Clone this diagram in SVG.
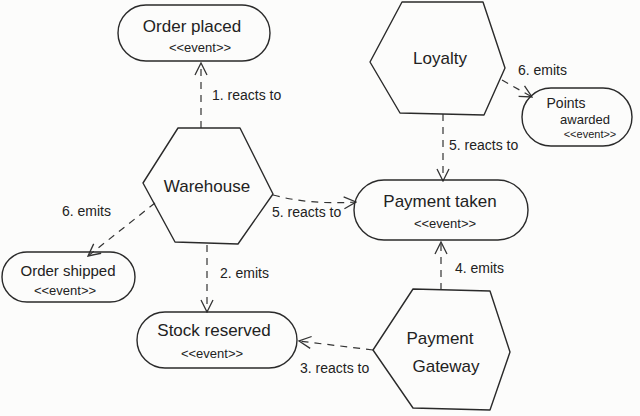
<svg xmlns="http://www.w3.org/2000/svg" width="640" height="416" viewBox="0 0 640 416">
<defs>
<style>
.shape{fill:none;stroke:#2a2a2a;stroke-width:1.4;stroke-linejoin:round}
.edge{fill:none;stroke:#333;stroke-width:1.2;stroke-dasharray:7 6}
.t{font-family:"Liberation Sans","DejaVu Sans",sans-serif;fill:#222;text-anchor:middle}
.big{font-size:17px}
.small{font-size:13px}
.lbl{font-family:"Liberation Sans","DejaVu Sans",sans-serif;fill:#222;font-size:14px}
</style>
<marker id="arr" viewBox="0 0 14 14" refX="13" refY="7" markerWidth="14" markerHeight="14" markerUnits="userSpaceOnUse" orient="auto">
<path d="M1,1 L13,7 L1,13" fill="none" stroke="#333" stroke-width="1.3"/>
</marker>
</defs>
<rect width="640" height="416" fill="#fcfcfb"/>
<g id="connectors">
<line class="edge" x1="201" y1="128" x2="201" y2="63" marker-end="url(#arr)"/>
<line class="edge" x1="207" y1="245" x2="207" y2="312" marker-end="url(#arr)"/>
<line class="edge" x1="373" y1="350" x2="299" y2="341" marker-end="url(#arr)"/>
<line class="edge" x1="441" y1="290" x2="441" y2="242" marker-end="url(#arr)"/>
<path class="edge" d="M273,195 Q310,205 356,202" marker-end="url(#arr)"/>
<line class="edge" x1="443" y1="114" x2="443" y2="181" marker-end="url(#arr)"/>
<line class="edge" x1="502" y1="80" x2="532" y2="97" marker-end="url(#arr)"/>
<line class="edge" x1="155" y1="203" x2="88" y2="256" marker-end="url(#arr)"/>
<text class="lbl" x="212" y="100">1. reacts to</text>
<text class="lbl" x="220" y="278">2. emits</text>
<text class="lbl" x="300" y="373">3. reacts to</text>
<text class="lbl" x="455" y="273">4. emits</text>
<text class="lbl" x="272" y="217">5. reacts to</text>
<text class="lbl" x="449" y="150">5. reacts to</text>
<text class="lbl" x="518" y="75">6. emits</text>
<text class="lbl" x="62" y="216">6. emits</text>
</g>
<g id="order-placed">
<rect class="shape" x="118" y="5" width="152" height="56" rx="28"/>
<text class="t big" x="192" y="32">Order placed</text>
<text class="t small" x="200" y="52">&lt;&lt;event&gt;&gt;</text>
</g>
<g id="loyalty">
<polygon class="shape" points="402,2 483,2 505,68 484,115 400,113 370,62"/>
<text class="t big" x="440" y="64">Loyalty</text>
</g>
<g id="points-awarded">
<rect class="shape" x="522" y="88" width="110" height="58" rx="29"/>
<text class="t" style="font-size:14px" x="566" y="108">Points</text>
<text class="t small" x="585" y="124">awarded</text>
<text class="t" style="font-size:11px" x="590" y="138">&lt;&lt;event&gt;&gt;</text>
</g>
<g id="warehouse">
<polygon class="shape" points="178,128 240,128 273,194 238,244 175,242 143,183"/>
<text class="t big" x="207" y="192">Warehouse</text>
</g>
<g id="payment-taken">
<rect class="shape" x="354" y="180" width="174" height="60" rx="30"/>
<text class="t big" x="440" y="207">Payment taken</text>
<text class="t small" x="445" y="228">&lt;&lt;event&gt;&gt;</text>
</g>
<g id="order-shipped">
<rect class="shape" x="2" y="252" width="133" height="50" rx="25"/>
<text class="t" style="font-size:15px" x="68" y="276">Order shipped</text>
<text class="t small" x="65" y="295">&lt;&lt;event&gt;&gt;</text>
</g>
<g id="stock-reserved">
<rect class="shape" x="137" y="312" width="160" height="56" rx="28"/>
<text class="t big" x="214" y="336">Stock reserved</text>
<text class="t small" x="212" y="358">&lt;&lt;event&gt;&gt;</text>
</g>
<g id="payment-gateway">
<polygon class="shape" points="413,289 490,291 510,352 490,410 413,408 373,350"/>
<text class="t big" x="440" y="344">Payment</text>
<text class="t big" x="446" y="372">Gateway</text>
</g>
</svg>
